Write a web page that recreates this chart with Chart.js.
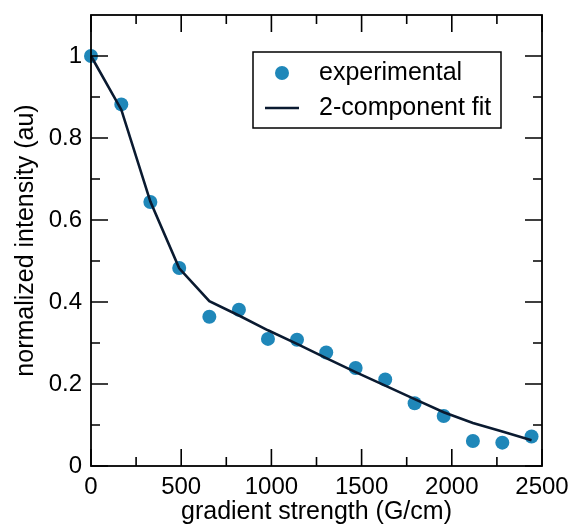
<!DOCTYPE html>
<html>
<head>
<meta charset="utf-8">
<script src="https://cdn.jsdelivr.net/npm/chart.js@4/dist/chart.umd.min.js"></script>
<style>
    html, body { margin: 0; padding: 0; background: #ffffff; }
    #wrap { width: 576px; height: 531px; }
</style>
</head>
<body>
<div id="wrap"><canvas id="myChart" width="576" height="531"></canvas></div>
<script>
// Values
var gradient = [0, 168, 329, 489, 656, 820, 981, 1142, 1304, 1467, 1631, 1794, 1955, 2117, 2280, 2442];
var experimental = [1.0, 0.882, 0.644, 0.483, 0.364, 0.381, 0.310, 0.308, 0.277, 0.239, 0.211, 0.153, 0.122, 0.061, 0.057, 0.072];
var fit = [1.0, 0.869, 0.645, 0.482, 0.402, 0.367, 0.331, 0.298, 0.263, 0.229, 0.196, 0.163, 0.131, 0.105, 0.084, 0.063];

var xTicks = [0, 500, 1000, 1500, 2000, 2500];
var xMinorTicks = [250, 750, 1250, 1750, 2250];
var yTicks = [0, 0.2, 0.4, 0.6, 0.8, 1];
var yMinorTicks = [0.1, 0.3, 0.5, 0.7, 0.9];

var pointColor = '#1f87b9';
var lineColor = '#0a1a30';
var fontName = '"Liberation Sans", Arial, sans-serif';

function toPoints(xs, ys) {
    return xs.map(function (x, i) { return { x: x, y: ys[i] }; });
}

// plain number labels, no thousands separator
function plainLabel(value) {
    return String(Math.round(value * 10) / 10);
}

// Draws the box round the plot and the inward ticks on all four sides
var frameTicks = {
    id: 'frameTicks',
    afterDatasetsDraw: function (chart) {
        var ctx = chart.ctx;
        var a = chart.chartArea;
        var xs = chart.scales.x;
        var ys = chart.scales.y;
        ctx.save();
        ctx.strokeStyle = '#000000';
        ctx.lineWidth = 1.6;
        ctx.beginPath();
        xTicks.concat(xMinorTicks).forEach(function (v) {
            var len = xTicks.indexOf(v) >= 0 ? 17 : 9;
            var px = xs.getPixelForValue(v);
            ctx.moveTo(px, a.bottom); ctx.lineTo(px, a.bottom - len);
            ctx.moveTo(px, a.top); ctx.lineTo(px, a.top + len);
        });
        yTicks.concat(yMinorTicks).forEach(function (v) {
            var len = yTicks.indexOf(v) >= 0 ? 17 : 9;
            var py = ys.getPixelForValue(v);
            ctx.moveTo(a.left, py); ctx.lineTo(a.left + len, py);
            ctx.moveTo(a.right, py); ctx.lineTo(a.right - len, py);
        });
        ctx.stroke();
        ctx.lineWidth = 1.8;
        ctx.strokeRect(a.left, a.top, a.right - a.left, a.bottom - a.top);
        ctx.restore();
    }
};

// Legend box inside the plot, built from the datasets
var boxLegend = {
    id: 'boxLegend',
    afterDraw: function (chart) {
        var ctx = chart.ctx;
        var ds = chart.data.datasets;
        var pts = ds[1];
        var ln = ds[0];
        ctx.save();
        ctx.fillStyle = '#ffffff';
        ctx.fillRect(253, 52, 248, 76);
        ctx.strokeStyle = '#000000';
        ctx.lineWidth = 1.5;
        ctx.strokeRect(253, 52, 248, 76);

        ctx.fillStyle = pts.backgroundColor;
        ctx.beginPath();
        ctx.arc(282, 73, 7, 0, Math.PI * 2);
        ctx.fill();

        ctx.strokeStyle = ln.borderColor;
        ctx.lineWidth = ln.borderWidth;
        ctx.beginPath();
        ctx.moveTo(265, 108); ctx.lineTo(299, 108);
        ctx.stroke();

        ctx.fillStyle = '#000000';
        ctx.font = '25px ' + fontName;
        ctx.textBaseline = 'middle';
        ctx.textAlign = 'left';
        ctx.fillText(pts.label, 319, 73);
        ctx.fillText(ln.label, 319, 108);
        ctx.restore();
    }
};

var ctx = document.getElementById('myChart').getContext('2d');
var myChart = new Chart(ctx, {
    type: 'scatter',
    data: {
        datasets: [{
            label: '2-component fit',
            data: toPoints(gradient, fit),
            showLine: true,
            borderColor: lineColor,
            backgroundColor: lineColor,
            borderWidth: 2.6,
            pointRadius: 0,
            tension: 0,
            clip: false,
            order: 0
        },
        {
            label: 'experimental',
            data: toPoints(gradient, experimental),
            showLine: false,
            backgroundColor: pointColor,
            borderColor: pointColor,
            borderWidth: 0,
            pointRadius: 7,
            clip: false,
            order: 1
        }]
    },
    options: {
        responsive: false,
        animation: false,
        layout: {
            padding: { top: 15, right: 34, bottom: 0, left: 0 }
        },
        plugins: {
            legend: { display: false },
            tooltip: { enabled: false }
        },
        scales: {
            x: {
                type: 'linear',
                min: 0,
                max: 2500,
                afterFit: function (scale) {
                    scale.height = 65;
                    scale.paddingLeft = 0;
                    scale.paddingRight = 0;
                },
                afterBuildTicks: function (scale) {
                    scale.ticks = xTicks.map(function (v) { return { value: v }; });
                },
                grid: { display: false, drawTicks: false },
                border: { display: false },
                ticks: {
                    color: '#000000',
                    padding: 7,
                    maxRotation: 0,
                    callback: plainLabel,
                    font: { family: fontName, size: 24 }
                },
                title: {
                    display: true,
                    text: 'gradient strength (G/cm)',
                    color: '#000000',
                    padding: { top: 0, bottom: 4 },
                    font: { family: fontName, size: 25 }
                }
            },
            y: {
                type: 'linear',
                min: 0,
                max: 1.1,
                afterFit: function (scale) {
                    scale.width = 91;
                    scale.paddingTop = 0;
                    scale.paddingBottom = 0;
                },
                afterBuildTicks: function (scale) {
                    scale.ticks = yTicks.map(function (v) { return { value: v }; });
                },
                grid: { display: false, drawTicks: false },
                border: { display: false },
                ticks: {
                    color: '#000000',
                    padding: 9,
                    callback: plainLabel,
                    font: { family: fontName, size: 24 }
                },
                title: {
                    display: true,
                    text: 'normalized intensity (au)',
                    color: '#000000',
                    padding: { top: 11, bottom: 0 },
                    font: { family: fontName, size: 25 }
                }
            }
        }
    },
    plugins: [frameTicks, boxLegend]
});
</script>
</body>
</html>
